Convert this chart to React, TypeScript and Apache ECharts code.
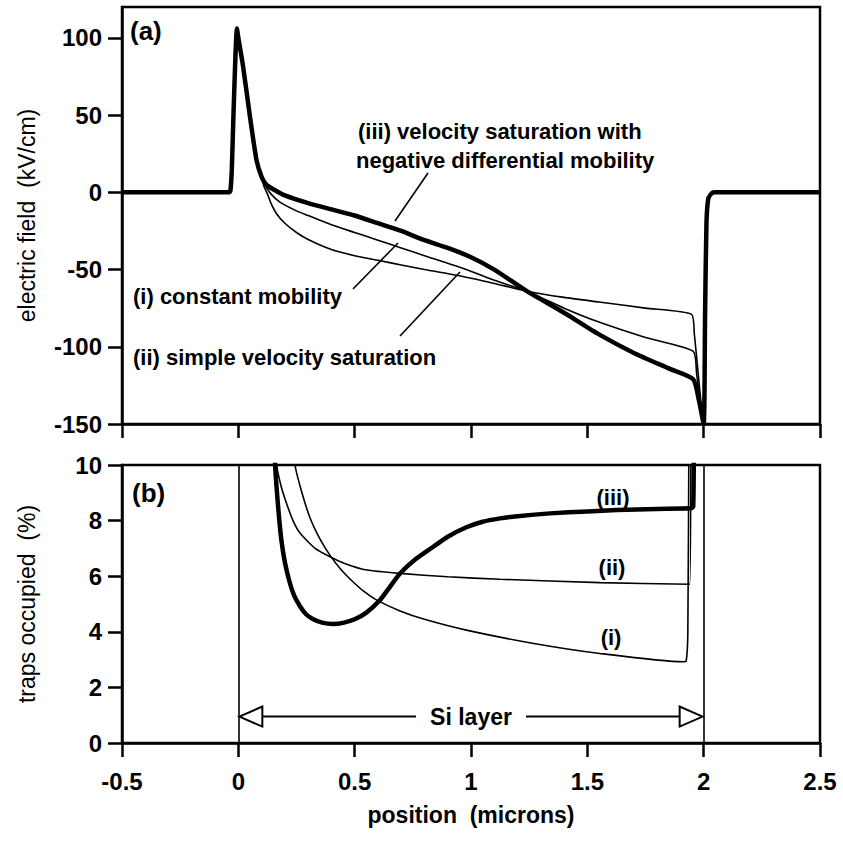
import React, { useEffect, useRef } from "react";
import * as echarts from "echarts";

// ---- data ----
const xTicks = [-0.5, 0, 0.5, 1, 1.5, 2, 2.5];
const fieldTicks = [-150, -100, -50, 0, 50, 100];
const trapTicks = [0, 2, 4, 6, 8, 10];

// shared part of the electric field (left contact and spike)
const fieldShared = [[-0.5, 0], [-0.04, 0], [-0.034, 1], [-0.028, 15], [-0.021, 50], [-0.012, 90], [-0.006, 106], [0.0, 100], [0.02, 82], [0.05, 49], [0.078, 21], [0.1, 10]];
// shared part at the right contact
const fieldRise = [[2.0, -150], [2.006, -80], [2.012, -20], [2.02, -4], [2.035, -0.5], [2.05, 0], [2.5, 0]];

const field_iii = [[0.12, 5], [0.15, 2], [0.2, -2], [0.3, -7], [0.4, -11], [0.5, -15], [0.6, -20], [0.7, -25], [0.8, -31], [0.9, -36], [1.0, -42], [1.1, -50], [1.24, -64], [1.4, -78], [1.55, -92], [1.7, -104], [1.85, -114], [1.955, -121], [1.98, -135]];
const field_i = [[0.11, 6], [0.14, -1], [0.18, -6.5], [0.25, -12], [0.3, -15], [0.4, -21], [0.5, -26], [0.6, -31], [0.7, -36], [0.8, -41], [0.98, -50], [1.1, -57], [1.24, -64], [1.4, -75], [1.55, -84], [1.75, -94], [1.955, -103], [1.97, -118]];
const field_ii = [[0.11, 4], [0.125, -1], [0.14, -7], [0.165, -14], [0.2, -20], [0.25, -26], [0.3, -30.5], [0.4, -37], [0.5, -41], [0.6, -44], [0.7, -47], [0.8, -50], [0.95, -54], [1.1, -59], [1.24, -64], [1.4, -68], [1.55, -71], [1.75, -75], [1.948, -79], [1.96, -92]];

const traps_iii = [[0.14, 14], [0.158, 10], [0.172, 8.4], [0.185, 7.3], [0.2, 6.5], [0.22, 5.8], [0.24, 5.3], [0.265, 4.92], [0.29, 4.64], [0.32, 4.46], [0.36, 4.33], [0.408, 4.28], [0.45, 4.32], [0.5, 4.45], [0.552, 4.7], [0.609, 5.14], [0.65, 5.6], [0.695, 6.1], [0.76, 6.6], [0.838, 7.06], [0.9, 7.42], [0.98, 7.76], [1.05, 7.96], [1.125, 8.08], [1.2, 8.16], [1.34, 8.26], [1.5, 8.33], [1.626, 8.38], [1.8, 8.42], [1.94, 8.44], [1.955, 8.5], [1.958, 12]];
const traps_ii = [[0.15, 13], [0.165, 10], [0.185, 9.2], [0.208, 8.6], [0.235, 8.0], [0.265, 7.55], [0.33, 7.0], [0.394, 6.7], [0.46, 6.45], [0.552, 6.22], [0.695, 6.1], [0.9, 5.98], [1.125, 5.89], [1.554, 5.77], [1.94, 5.71], [1.945, 12]];
const traps_i = [[0.22, 13], [0.244, 10], [0.27, 9.1], [0.308, 8.1], [0.35, 7.35], [0.394, 6.75], [0.44, 6.25], [0.48, 5.9], [0.54, 5.45], [0.595, 5.14], [0.695, 4.75], [0.8, 4.45], [0.98, 4.06], [1.27, 3.58], [1.554, 3.22], [1.912, 2.92], [1.925, 2.95], [1.932, 4], [1.937, 12]];

const siLayer = [0, 2];
const siArrowLevel = 0.95;

const FONT = '"Liberation Sans", Arial, Helvetica, sans-serif';
const NARROW = '"Liberation Sans Narrow", "Arial Narrow", "Liberation Sans", sans-serif';

export default function App() {
  const ref = useRef<HTMLDivElement>(null);
  useEffect(() => {
    if (!ref.current) return;
    const chart = echarts.init(ref.current, null, { renderer: "svg" });
    const axisLine = { show: true, onZero: false, lineStyle: { color: "#000", width: 2.5 } };
    const tick = { show: true, inside: false, length: 14, lineStyle: { color: "#000", width: 2.5 } };
    const labelStyle = { color: "#000", fontFamily: FONT, fontWeight: "bold" as const, fontSize: 24 };
    const thin = { color: "#000", width: 1.6 };
    const thick = { color: "#000", width: 4.5 };
    const lineSeries = (data: number[][], ls: any, xi: number, extra: any = {}) => ({
      type: "line", xAxisIndex: xi, yAxisIndex: xi, data, showSymbol: false, symbol: "none",
      smooth: 0.2, lineStyle: ls, itemStyle: { color: "#000" }, clip: true, z: 3, ...extra,
    });
    const txt = (text: string, x: number, y: number, size = 22, align = "left") => ({
      type: "text", x, y, style: { text, fill: "#000", fontFamily: FONT, fontWeight: "bold", fontSize: size, align, verticalAlign: "middle" }, z: 10,
    });
    const ln = (x1: number, y1: number, x2: number, y2: number) => ({
      type: "line", shape: { x1, y1, x2, y2 }, style: { stroke: "#000", lineWidth: 1.6 }, z: 10,
    });

    chart.setOption({
      animation: false,
      backgroundColor: "#fff",
      grid: [
        { left: 122, right: 23, top: 7, height: 417, show: true, borderColor: "#000", borderWidth: 2.5, backgroundColor: "transparent" },
        { left: 122, right: 23, top: 465, height: 278, show: true, borderColor: "#000", borderWidth: 2.5, backgroundColor: "transparent" },
      ],
      xAxis: [
        { type: "value", gridIndex: 0, min: xTicks[0], max: xTicks[xTicks.length - 1], interval: 0.5, axisLine, axisTick: tick, axisLabel: { show: false }, splitLine: { show: false } },
        {
          type: "value", gridIndex: 1, min: xTicks[0], max: xTicks[xTicks.length - 1], interval: 0.5, axisLine, axisTick: tick,
          axisLabel: { ...labelStyle, margin: 26 }, splitLine: { show: false },
          name: "position  (microns)", nameLocation: "middle", nameGap: 60,
          nameTextStyle: { color: "#000", fontFamily: FONT, fontWeight: "bold", fontSize: 23 },
        },
      ],
      yAxis: [
        {
          type: "value", gridIndex: 0, min: -150, max: 120, interval: 50, axisLine,
          axisTick: { ...tick, customValues: fieldTicks },
          axisLabel: { ...labelStyle, margin: 20, customValues: fieldTicks }, splitLine: { show: false },
          name: "electric field  (kV/cm)", nameLocation: "middle", nameGap: 84,
          nameTextStyle: { color: "#000", fontFamily: NARROW, fontSize: 23 },
        },
        {
          type: "value", gridIndex: 1, min: 0, max: 10, interval: 2, axisLine,
          axisTick: { ...tick, customValues: trapTicks },
          axisLabel: { ...labelStyle, margin: 20, customValues: trapTicks }, splitLine: { show: false },
          name: "traps occupied  (%)", nameLocation: "middle", nameGap: 84,
          nameTextStyle: { color: "#000", fontFamily: NARROW, fontSize: 23 },
        },
      ],
      series: [
        lineSeries([...fieldShared, ...field_ii, ...fieldRise], thin, 0, { name: "(ii)" }),
        lineSeries([...fieldShared, ...field_i, ...fieldRise], thin, 0, { name: "(i)" }),
        lineSeries([...fieldShared, ...field_iii, ...fieldRise], thick, 0, { name: "(iii)", z: 4 }),
        lineSeries(traps_i, thin, 1, { name: "(i) traps" }),
        lineSeries(traps_ii, thin, 1, { name: "(ii) traps" }),
        lineSeries(traps_iii, thick, 1, {
          name: "(iii) traps", z: 4,
          markLine: {
            silent: true, symbol: "none", label: { show: false },
            lineStyle: { color: "#000", width: 1.6, type: "solid" },
            data: siLayer.map((v) => ({ xAxis: v })),
          },
        }),
        {
          type: "custom", xAxisIndex: 1, yAxisIndex: 1, z: 5,
          data: [[siLayer[0], siLayer[1], siArrowLevel]],
          renderItem: (_p: any, api: any) => {
            const p0 = api.coord([api.value(0), api.value(2)]);
            const p1 = api.coord([api.value(1), api.value(2)]);
            const y = p0[1];
            const L = 24, H = 10;
            const cx = (p0[0] + p1[0]) / 2;
            const half = 46, gap = 9;
            const st = { stroke: "#000", lineWidth: 2, fill: "none" };
            return {
              type: "group",
              children: [
                { type: "line", shape: { x1: p0[0] + L, y1: y, x2: cx - half - gap, y2: y }, style: st },
                { type: "line", shape: { x1: cx + half + gap, y1: y, x2: p1[0] - L, y2: y }, style: st },
                { type: "polygon", shape: { points: [[p0[0] + 1, y], [p0[0] + L, y - H], [p0[0] + L, y + H]] }, style: { ...st, fill: "#fff" } },
                { type: "polygon", shape: { points: [[p1[0] - 1, y], [p1[0] - L, y - H], [p1[0] - L, y + H]] }, style: { ...st, fill: "#fff" } },
                { type: "text", style: { text: "Si layer", x: cx, y, align: "center", verticalAlign: "middle", fill: "#000", fontFamily: FONT, fontWeight: "bold", fontSize: 23 } },
              ],
            };
          },
        },
      ],
      graphic: [
        txt("(a)", 130, 31, 26),
        txt("(b)", 132, 493, 26),
        txt("(iii) velocity saturation with", 358, 131),
        txt("negative differential mobility", 356, 160),
        ln(428, 173, 395, 221),
        txt("(i) constant mobility", 133, 296),
        ln(353, 289, 398, 243),
        txt("(ii) simple velocity saturation", 133, 357),
        ln(400, 336, 460, 272),
        txt("(iii)", 613, 497, 22, "center"),
        txt("(ii)", 612, 567, 22, "center"),
        txt("(i)", 611, 637, 22, "center"),
      ],
    });
    return () => chart.dispose();
  }, []);
  return <div ref={ref} style={{ position: "absolute", left: 0, top: 0, width: 843, height: 853 }} />;
}
